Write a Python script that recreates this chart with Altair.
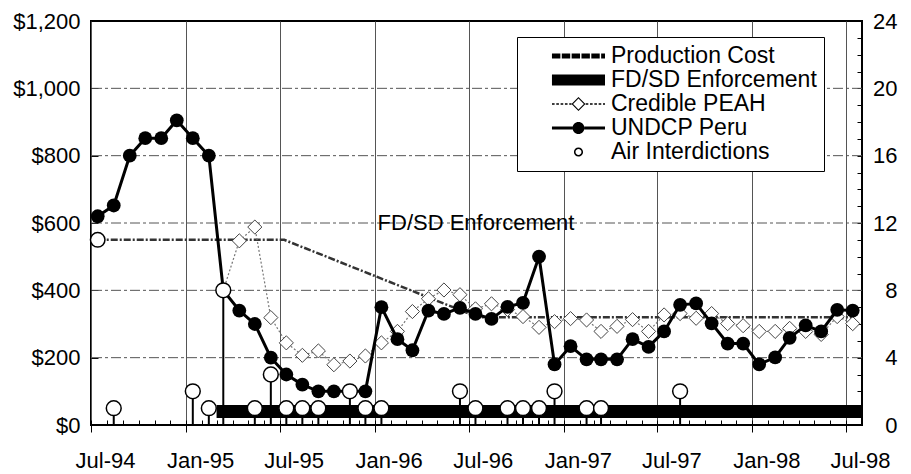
import altair as alt
import pandas as pd

# ---------------- data ----------------
first_month = "1994-07-01"
undcp_peru = [620, 652, 800, 852, 852, 905, 852, 800, 400, 340,
              300, 200, 150, 120, 100, 100, 100, 100, 350, 255,
              222, 340, 330, 348, 330, 315, 351, 363, 500, 180,
              234, 195, 195, 195, 255, 232, 278, 357, 361, 302,
              242, 242, 180, 201, 259, 296, 278, 342, 340]

peah_first_month = "1995-03-01"
credible_peah = [400, 547, 588, 319, 244, 207, 220, 179, 190, 205,
                 244, 278, 337, 375, 401, 387, 345, 360, 343, 322,
                 290, 307, 316, 312, 278, 293, 313, 278, 327, 331,
                 317, 331, 301, 295, 278, 278, 287, 278, 269, 322, 301]

prodcost_dates = ["1994-07-14", "1995-07-10", "1996-05-20", "1996-07-20", "1998-07-14"]
prodcost_values = [550, 550, 357, 320, 320]

fdsd_dates = ["1995-03-01", "1998-08-01"]
fdsd_values = [40, 40]

air_months = ["1994-08", "1995-01", "1995-02", "1995-03", "1995-05", "1995-06",
              "1995-07", "1995-08", "1995-09", "1995-11", "1995-12", "1996-01",
              "1996-06", "1996-07", "1996-09", "1996-10", "1996-11", "1996-12",
              "1997-02", "1997-03", "1997-08"]
air_counts = [1, 2, 1, 8, 1, 3, 1, 1, 1, 2, 1, 1, 2, 1, 1, 1, 1, 2, 1, 1, 2]

tick_labels = ["Jul-94", "Jan-95", "Jul-95", "Jan-96", "Jul-96",
               "Jan-97", "Jul-97", "Jan-98", "Jul-98"]
dollar_ticks = [0, 200, 400, 600, 800, 1000, 1200]
dollar_grid = [200, 400, 600, 800, 1000]
air_ticks = list(range(0, 25))

legend_names = ["Production Cost", "FD/SD Enforcement", "Credible PEAH",
                "UNDCP Peru", "Air Interdictions"]
annotation_text = ["FD/SD Enforcement"]
annotation_dates = ["1996-07-15"]
annotation_values = [600]

# ---------------- tables ----------------
mid = pd.Timedelta(days=13)
undcp_df = pd.DataFrame({
    "date": (pd.date_range(first_month, periods=len(undcp_peru), freq="MS") + mid).strftime("%Y-%m-%d"),
    "value": undcp_peru})
peah_df = pd.DataFrame({
    "date": (pd.date_range(peah_first_month, periods=len(credible_peah), freq="MS") + mid).strftime("%Y-%m-%d"),
    "value": credible_peah})
prod_df = pd.DataFrame({"date": prodcost_dates, "value": prodcost_values})
prod_first = prod_df.iloc[[0]]
fdsd_df = pd.DataFrame({"date": fdsd_dates, "value": fdsd_values})
air_df = pd.DataFrame({
    "date": (pd.to_datetime([m + "-01" for m in air_months]) + mid).strftime("%Y-%m-%d"),
    "count": air_counts})
grid_df = pd.DataFrame({"value": dollar_grid})
ann_df = pd.DataFrame({"text": annotation_text, "date": annotation_dates, "value": annotation_values})
legend_df = pd.DataFrame({"series": legend_names})

# ---------------- scales & axes ----------------
FONT = "Liberation Sans"


def dt(ts):
    return alt.DateTime(year=ts.year, month=ts.month, date=ts.day, utc=True)


month_starts = pd.date_range(first_month, periods=50, freq="MS")
major_ticks = [dt(month_starts[i * 6]) for i in range(len(tick_labels))]
minor_ticks = [dt(t) for t in month_starts]

x_scale = alt.Scale(type="utc", domain=[dt(month_starts[0]), dt(month_starts[-1])], nice=False)
x_major_axis = alt.Axis(values=major_ticks, format="%b-%y", grid=True,
                        gridColor="#555555", gridWidth=1, tickSize=7, domain=False,
                        labelPadding=18, labelOffset=14, labelFontSize=22, labelFlush=False,
                        title=None, orient="bottom")
x_minor_axis = alt.Axis(values=minor_ticks, orient="bottom", offset=-5, tickSize=5,
                        labels=False, domain=False, grid=False, title=None)

y_scale = alt.Scale(domain=[0, 1200], nice=False, zero=True)
y_left_axis = alt.Axis(values=dollar_ticks, format="$,.0f", tickSize=7, offset=-7,
                       labelPadding=11, domain=False, grid=False, labelFontSize=22,
                       title=None, orient="left")
y_air_scale = alt.Scale(domain=[0, 24], nice=False)
y_right_axis = alt.Axis(values=air_ticks, orient="right", tickSize=5, offset=-5,
                        labelExpr="datum.value % 4 === 0 ? datum.label : ''",
                        labelAlign="right", labelPadding=35, domain=False, grid=False,
                        labelFontSize=22, title=None)


def X(axis=None):
    return alt.X("date:T", scale=x_scale, axis=axis)


def Y(axis=None):
    return alt.Y("value:Q", scale=y_scale, axis=axis)


# ---------------- dollar layers ----------------
hgrid = alt.Chart(grid_df).mark_rule(color="#555555", strokeWidth=1, strokeDash=[10, 3, 3, 3]).encode(
    y=Y())

prod_line = alt.Chart(prod_df).mark_line(color="#333333", strokeWidth=2.5, strokeDash=[7, 2, 2, 2]).encode(
    x=X(x_major_axis), y=Y(y_left_axis))
prod_pt = alt.Chart(prod_first).mark_point(shape="circle", filled=True, fill="white", stroke="black",
                                           strokeWidth=1.5, size=210, opacity=1).encode(x=X(), y=Y())

peah_line = alt.Chart(peah_df).mark_line(color="#777777", strokeWidth=1.2, strokeDash=[2, 2]).encode(
    x=X(), y=Y())
peah_pts = alt.Chart(peah_df).mark_point(shape="diamond", filled=True, fill="white", stroke="#444444",
                                         strokeWidth=1, size=200, opacity=1).encode(x=X(), y=Y())

undcp_line = alt.Chart(undcp_df).mark_line(color="black", strokeWidth=3).encode(x=X(), y=Y())
undcp_pts = alt.Chart(undcp_df).mark_point(shape="circle", filled=True, fill="black", strokeWidth=0,
                                           size=190, opacity=1).encode(x=X(), y=Y())

fdsd_line = alt.Chart(fdsd_df).mark_line(color="black", strokeWidth=13, strokeCap="butt").encode(
    x=X(), y=Y())

ann = alt.Chart(ann_df).mark_text(font=FONT, fontSize=22, align="center", baseline="middle",
                                  color="black").encode(x=X(), y=Y(), text="text:N")


# legend symbols: custom paths in units of 12 px (symbolSize 576), drawn right of centre
def rect(x0, x1, h):
    return f"M{x0:.2f},{-h:.2f} L{x1:.2f},{-h:.2f} L{x1:.2f},{h:.2f} L{x0:.2f},{h:.2f} Z "


def dashes(x0, x1, seg, gap, h):
    out, x = "", x0
    while x < x1 - 1e-6:
        out += rect(x, min(x + seg, x1), h)
        x += seg + gap
    return out


def ring_circle(cx, ro, ri):
    outer = f"M{cx - ro:.2f},0 A{ro},{ro} 0 1,1 {cx + ro:.2f},0 A{ro},{ro} 0 1,1 {cx - ro:.2f},0 Z "
    inner = f"M{cx - ri:.2f},0 A{ri},{ri} 0 1,0 {cx + ri:.2f},0 A{ri},{ri} 0 1,0 {cx - ri:.2f},0 Z "
    return outer + inner


def ring_diamond(cx, ro, ri):
    outer = f"M{cx - ro:.2f},0 L{cx:.2f},{-ro:.2f} L{cx + ro:.2f},0 L{cx:.2f},{ro:.2f} Z "
    inner = f"M{cx - ri:.2f},0 L{cx:.2f},{ri:.2f} L{cx + ri:.2f},0 L{cx:.2f},{-ri:.2f} Z "
    return outer + inner


L0, L1, C = 1.33, 5.75, 3.54
legend_paths = [
    dashes(L0, L1, 0.7, 0.12, 0.2),
    rect(L0, L1, 0.46),
    dashes(L0, C - 0.58, 0.22, 0.14, 0.06) + ring_diamond(C, 0.58, 0.45) + dashes(C + 0.6, L1, 0.22, 0.14, 0.06),
    rect(L0, C - 0.5, 0.12) + f"M{C - 0.5:.2f},0 A0.5,0.5 0 1,1 {C + 0.5:.2f},0 A0.5,0.5 0 1,1 {C - 0.5:.2f},0 Z "
    + rect(C + 0.5, L1, 0.12),
    ring_circle(C, 0.38, 0.25),
]
legend_def = alt.Legend(title=None, orient="none", legendX=426, legendY=16, strokeColor="black",
                        fillColor="white", padding=7, labelFont=FONT, labelFontSize=23,
                        labelColor="black", labelLimit=400, labelOffset=63, symbolSize=576,
                        symbolStrokeWidth=0, symbolOpacity=1, rowPadding=0)
legend_layer = alt.Chart(legend_df).mark_point(filled=True, opacity=0, color="black").encode(
    shape=alt.Shape("series:N", scale=alt.Scale(domain=legend_names, range=legend_paths), legend=legend_def),
)

# ---------------- air interdiction layers ----------------
stems = alt.Chart(air_df).mark_rule(color="black", strokeWidth=2).encode(
    x=alt.X("date:T", scale=x_scale, axis=x_minor_axis),
    y=alt.Y("count:Q", scale=y_air_scale, axis=y_right_axis),
    y2=alt.datum(0))
circles = alt.Chart(air_df).mark_point(shape="circle", filled=True, fill="white", stroke="black",
                                       strokeWidth=1.5, size=220, opacity=1).encode(
    x=alt.X("date:T", scale=x_scale, axis=None),
    y=alt.Y("count:Q", scale=y_air_scale, axis=None))

chart = alt.layer(hgrid, prod_line, prod_pt, peah_line, peah_pts, undcp_line, undcp_pts,
                  fdsd_line, ann, legend_layer, stems, circles).resolve_scale(
    y="independent").resolve_axis(x="independent", y="independent").properties(
    width=771, height=404,
    autosize=alt.AutoSizeParams(type="none"),
    padding={"left": 83, "top": 13, "right": 41, "bottom": 49},
).configure(font=FONT, background="white").configure_view(
    stroke="black", strokeWidth=2).configure_axis(labelColor="black", tickColor="black",
                                                   labelFont=FONT)

chart.save("out.html", embed_options={"renderer": "svg", "actions": False})
